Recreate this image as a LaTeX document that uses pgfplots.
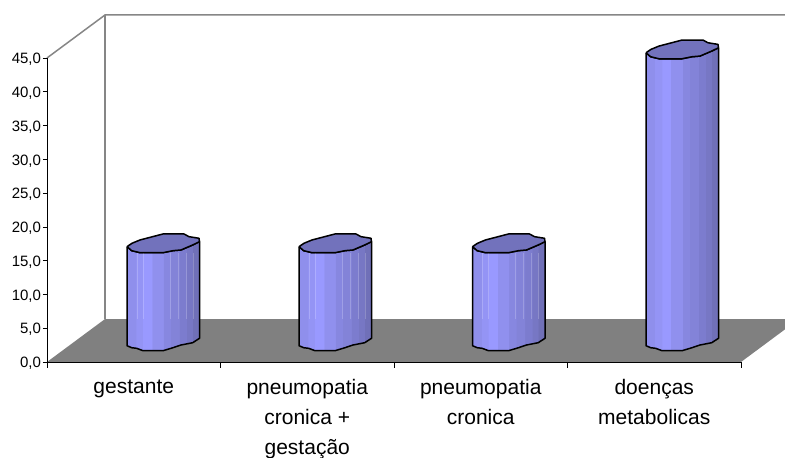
\documentclass[border=0pt]{standalone}
\usepackage{fontspec}
\setmainfont{Liberation Sans}
\usepackage{pgfplots}
\usepackage{pgfplotstable}
\pgfplotsset{compat=1.18}

\definecolor{strA}{HTML}{8F8FEC}
\definecolor{strB}{HTML}{9494F5}
\definecolor{strC}{HTML}{9999FF}
\definecolor{strD}{HTML}{9090EE}
\definecolor{strE}{HTML}{8787E0}
\definecolor{strF}{HTML}{8383D8}
\definecolor{strG}{HTML}{7C7CCE}
\definecolor{strH}{HTML}{7777C4}
\definecolor{strI}{HTML}{7070B8}
\definecolor{capblue}{HTML}{7272BC}
\definecolor{wallgrey}{HTML}{868686}
\definecolor{floorgrey}{HTML}{808080}

% Faceted look of the cylinder body: flat colour strips from left to right
\pgfdeclarehorizontalshading{cylbody}{100bp}{%
  color(0bp)=(strA); color(25bp)=(strA); color(31bp)=(strA);
  color(31bp)=(strB); color(36bp)=(strB);
  color(36bp)=(strC); color(42bp)=(strC);
  color(42bp)=(strD); color(50bp)=(strD);
  color(50bp)=(strE); color(55bp)=(strE);
  color(55bp)=(strF); color(61bp)=(strF);
  color(61bp)=(strG); color(66bp)=(strG);
  color(66bp)=(strH); color(70bp)=(strH);
  color(70bp)=(strI); color(75bp)=(strI); color(100bp)=(strI)}

% Cylinder outlines: dx in points from the left edge, dy in points from the rim,
% top = 1 for outline points that rise with the bar's value
\pgfplotstableread{
dx dy
0 0
5 3.4
13 6.7
36 12.7
57 12.7
62 10
72 8.4
72.5 5
65.7 1.7
54 -3.3
46 -4
36 -6
13 -6
4.7 -4
0 0
}\capshape
\pgfplotstableread{
dx dy top
0 0 1
4.7 -4 1
13 -6 1
36 -6 1
46 -4 1
54 -3.3 1
65.7 1.7 1
72.5 5 1
72.5 7 0
65.7 2.6 0
54 0.3 0
46 -2.4 0
36 -5.4 0
16 -5.4 0
9.7 -3 0
4.7 -2.4 0
0 -0.4 0
0 0 1
}\bodyshape
\pgfplotstableread{
n f
0 0
1 1
}\streakends

% #1 left edge of the bar, #2 value
\newcommand\cylbody[2]{%
  \addplot[shade, shading=cylbody, draw=black, line width=1.5pt, line join=round, mark=none, forget plot]
    table[x expr=#1+\thisrow{dx}, y expr=2.47+\thisrow{dy}/6.756+\thisrow{top}*#2] {\bodyshape};
}
\newcommand\cylcap[2]{%
  \addplot[fill=capblue, draw=black, line width=1.5pt, line join=round, mark=none, forget plot]
    table[x expr=#1+\thisrow{dx}, y expr=2.47+\thisrow{dy}/6.756+#2] {\capshape};
}
% faint highlight on one facet, from the back of the floor up to the rim
\newcommand\streak[3]{%
  \addplot[draw=white, opacity=0.2, line width=0.7pt, mark=none, forget plot]
    table[x expr=#1+#3, y expr=6.36+\thisrow{f}*(2.47+#2-1-6.36)] {\streakends};
}
\newcommand\streakedbar[2]{%
  \cylbody{#1}{#2}
  \streak{#1}{#2}{10}\streak{#1}{#2}{16}\streak{#1}{#2}{43}
  \streak{#1}{#2}{51}\streak{#1}{#2}{59}\streak{#1}{#2}{66}
  \cylcap{#1}{#2}
}

\begin{document}
\begin{tikzpicture}[x=1pt,y=1pt]
\useasboundingbox (0,0) rectangle (785,458);
\begin{axis}[
  at={(47pt,96pt)}, anchor=south west,
  scale only axis, width=738pt, height=362pt,
  xmin=47, xmax=785, ymin=0, ymax=53.58,
  clip=false,
  axis line style={draw=none},
  tick align=outside, xtick pos=bottom, ytick pos=left,
  ytick={0,5,...,45},
  major tick length=4pt,
  y tick style={black, line width=0.7pt},
  x tick style={draw=none},
  yticklabel style={font=\fontsize{15}{18}\selectfont, xshift=1.5pt, yshift=-1.5pt},
  /pgf/number format/.cd, fixed, fixed zerofill, precision=1, use comma, assume math mode=true,
  /pgfplots/.cd,
  xtick={133.75,307.25,480.75,654.25},
  xticklabels={gestante,{pneumopatia\\cronica +\\gestação},{pneumopatia\\cronica},{doenças\\metabolicas}},
  xticklabel style={font=\fontsize{21}{30}\selectfont, align=center, anchor=north, yshift=-10pt},
  extra x ticks={47,220.5,394,567.5,741},
  extra x tick labels={},
  extra x tick style={major tick length=6pt, x tick style={draw=black, line width=0.7pt}},
]
  % floor and back wall
  \addplot[fill=floorgrey, draw=none, forget plot] coordinates {(47,0) (741,0) (785,4.83) (785,6.36) (105,6.36) (47,0)};
  \addplot[draw=wallgrey, line width=1.5pt, forget plot] coordinates {(47,45) (105,51.36) (785,51.36)};
  \addplot[draw=wallgrey, line width=1.5pt, forget plot] coordinates {(105,51.36) (105,6.36)};
  % axis lines
  \addplot[draw=black, line width=0.8pt, forget plot] coordinates {(47,0) (47,45)};
  \addplot[draw=black, line width=0.8pt, forget plot] coordinates {(47,0) (741,0)};
  % bars
  \streakedbar{127}{14.6}
  \streakedbar{299}{14.6}
  \streakedbar{472.5}{14.6}
  \cylbody{646}{43.3}
  \cylcap{646}{43.3}
\end{axis}
\end{tikzpicture}
\end{document}
